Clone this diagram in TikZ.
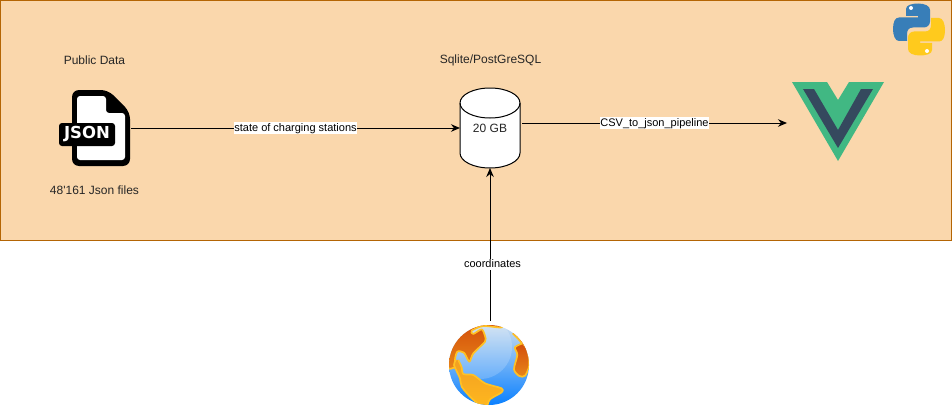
\documentclass[tikz,border=0pt]{standalone}
\usepackage{fontspec}
\setmainfont{Liberation Sans}
\newfontfamily\iconfont{DejaVu Sans}
\usetikzlibrary{arrows.meta}
\definecolor{panelfill}{HTML}{FAD7AC}
\definecolor{panelline}{HTML}{B46504}
\definecolor{vuegreen}{HTML}{41B883}
\definecolor{vuedark}{HTML}{35495E}
\definecolor{pyblue}{HTML}{387EB8}
\definecolor{pyyellow}{HTML}{FFCA1D}
\definecolor{landedge}{HTML}{FFC125}
\definecolor{seatop}{HTML}{C9DDF0}
\definecolor{seamid}{HTML}{5FA8F5}
\definecolor{seabot}{HTML}{0A80FF}
\definecolor{landdark}{HTML}{D24A08}
\definecolor{landmid}{HTML}{E8861A}
\definecolor{landsouth}{HTML}{F2A021}
\definecolor{landsouthb}{HTML}{FFB81F}
\newcommand{\pysnake}{(906,16) -- (906,9) .. controls (906,5) and (912,3.5) .. (918,3.5) .. controls (925,3.5) and (930,6) .. (930,10) -- (930,21.5) .. controls (930,25) and (927,27.5) .. (924,27.5) -- (913,27.5) .. controls (909,27.5) and (907,30) .. (907,34) -- (907,41) -- (899,41) .. controls (895,41) and (893,35) .. (893,29) .. controls (893,22) and (895,17.5) .. (899,17.5) -- (918,17.5) -- (918,16) -- cycle}
\tikzset{
  x=1pt,y=-1pt,
  txt/.style={font=\fontsize{12}{14}\selectfont,text=black!85,inner sep=0pt},
  lbl/.style={font=\fontsize{11}{13}\selectfont,fill=white,inner xsep=0.5pt,inner ysep=0.5pt,text height=8.5pt,text depth=2pt},
  conn/.style={draw=black,line width=1pt,-{Stealth[length=9pt,width=7.5pt]}},
  land/.style={line width=1.7pt,draw=landedge,line join=round}
}
\begin{document}
\begin{tikzpicture}
\useasboundingbox (0,0) rectangle (952,412);
\fill[white] (0,0) rectangle (952,412);
\draw[draw=panelline,fill=panelfill,line width=1pt] (0,0.5) rectangle (951,240.5);
% Labels
\node[txt] (pub) at (94.5,60.5) {Public Data};
\node[txt] (files) at (94.5,190.5) {48\textquotesingle161 Json files};
\node[txt] (sql) at (490.5,60.5) {Sqlite/PostGreSQL};
% JSON icon
\coordinate (jsoneast) at (131,128);
\fill[black,rounded corners=7pt] (72,90) -- (108,90) -- (130,112) -- (130,166) -- (72,166) -- cycle;
\fill[white,rounded corners=3pt] (77,96) -- (106,96) -- (106,113) -- (125,113) -- (125,160) -- (77,160) -- cycle;
\fill[black,rounded corners=3pt] (59,123) rectangle (115,146);
\node[inner sep=0pt,text=white,font=\iconfont\fontsize{16.5}{17}\selectfont\bfseries] (jsontext) at (87,134.5) {JSON};
% Database
\draw[line width=1pt,fill=white] (460,103) arc[start angle=180,end angle=0,x radius=30pt,y radius=15pt] -- (520,153) arc[start angle=0,end angle=-180,x radius=30pt,y radius=15pt] -- cycle;
\draw[line width=1pt] (460,103) arc[start angle=180,end angle=360,x radius=30pt,y radius=15pt];
\node[minimum width=60pt,minimum height=80pt,inner sep=0pt,outer sep=0pt,font=\fontsize{12}{14}\selectfont,text=black!85] (dbnode) at (490,128) {20 GB};
% Vue logo
\coordinate (vuewest) at (787,123);
\fill[vuegreen] (792,82) -- (827,82) -- (838,100) -- (849,82) -- (884,82) -- (838,161) -- cycle;
\fill[vuedark] (803,89) -- (814,89) -- (838,130) -- (861,89) -- (873,89) -- (838,148) -- cycle;
% Python logo
\fill[pyblue] \pysnake;
\begin{scope}[shift={(1838,59)},x=-1pt,y=1pt]
\fill[pyyellow] \pysnake;
\end{scope}
\fill[white] (911,8) circle (2pt);
\fill[white] (927,51) circle (2pt);
% Earth
\coordinate (earthnorth) at (490,321);
\begin{scope}
\clip (489,365) circle (40pt);
\shade[top color=seatop,middle color=seamid,bottom color=seabot] (449,325) rectangle (529,405);
\fill[white,opacity=0.18] (480,347) circle (32pt);
\begin{scope}[shift={(430,310)},x=0.3333pt,y=-0.3333pt]
\draw[land,top color=landdark,bottom color=landmid] plot[smooth,tension=0.45] coordinates {(40,30) (225,30) (215,52) (160,48) (125,62) (130,72) (155,58) (165,78) (165,95) (130,130) (118,155) (102,128) (82,125) (75,150) (85,165) (55,175) (30,120)};
\draw[land,top color=landsouth,bottom color=landsouthb] plot[smooth,tension=0.45] coordinates {(85,150) (95,172) (100,192) (130,195) (165,220) (215,235) (215,247) (180,268) (165,295) (125,265) (95,230) (90,205) (72,165) (78,150)};
\draw[land,fill=landdark] plot[smooth,tension=0.45] coordinates {(248,70) (275,100) (258,115) (310,120) (310,70)};
\draw[land,top color=landdark,bottom color=landmid] plot[smooth,tension=0.5] coordinates {(272,92) (292,120) (298,165) (285,197) (268,198) (252,178) (262,135) (255,112) (278,100)};
\end{scope}
\end{scope}
% Connectors
\draw[conn] (jsoneast) -- node[lbl] (c1) {state of charging stations} (dbnode.west|-jsoneast);
\draw[conn] (dbnode.east|-vuewest) ++(2,0) -- node[lbl] (c2) {CSV\_to\_json\_pipeline} (vuewest);
\draw[conn] (earthnorth) -- node[lbl,pos=0.37,xshift=2.5pt] (c3) {coordinates} (dbnode.south);
\end{tikzpicture}
\end{document}
